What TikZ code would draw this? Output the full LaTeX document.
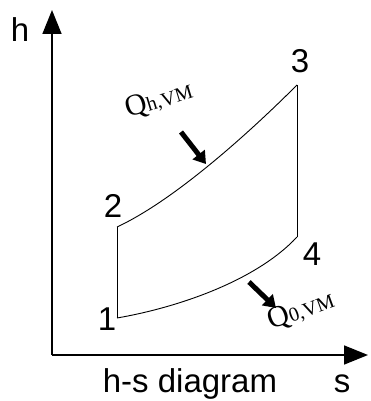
\documentclass[tikz,border=0pt]{standalone}
\usepackage{fontspec}
\setmainfont{Liberation Sans}
\newfontfamily\qfont{Liberation Serif}
\usetikzlibrary{arrows.meta}

\begin{document}
\begin{tikzpicture}[
    x=1pt, y=-1pt,
    axis/.style={line width=1.6pt, -{Triangle[length=24pt,width=19pt]}},
    cycle/.style={line width=0.9pt},
    heat/.style={line width=5pt, -{Triangle[length=12pt,width=15pt]}},
    lab/.style={font=\fontsize{33}{33}\selectfont, anchor=base, inner sep=0pt},
    qlab/.style={font=\qfont\fontsize{30}{30}\selectfont, anchor=base west, inner sep=0pt, rotate=17},
]
\useasboundingbox (0,0) rectangle (371,401);

% Axes
\coordinate (O) at (52,355);
\coordinate (htip) at (52,10);
\coordinate (stip) at (368,355);
\draw[axis] (O) -- (htip);
\draw[axis] (O) -- (stip);

% State points
\coordinate (p1) at (117,318);
\coordinate (p2) at (117,227);
\coordinate (p3) at (297,85);
\coordinate (p4) at (297,237);

% Cycle
\draw[cycle] (p1) -- (p2);
\draw[cycle] (p2) .. controls (175,200) and (250,132) .. (p3);
\draw[cycle] (p3) -- (p4);
\draw[cycle] (p1) .. controls (175,308) and (255,282) .. (p4);

% Point labels
\node[lab] (l1) at (107,330) {1};
\node[lab] (l2) at (113,217) {2};
\node[lab] (l3) at (300,73) {3};
\node[lab] (l4) at (312,265) {4};

% Axis labels
\node[lab] (hlab) at (20,42) {h};
\node[lab] (slab) at (342,392) {s};
\node[lab] (title) at (190,392) {h-s diagram};

% Heat flows
\coordinate (qhs) at (181,132);
\coordinate (qhe) at (206,164);
\draw[heat] (qhs) -- (qhe);
\node[qlab] (qh) at (128,118) {Q{\fontsize{20}{20}\selectfont h,VM}};

\coordinate (q0s) at (249,282);
\coordinate (q0e) at (276,308);
\draw[heat] (q0s) -- (q0e);
\node[qlab, rotate=3] (q0) at (271,330) {Q{\fontsize{20}{20}\selectfont 0,VM}};
\end{tikzpicture}
\end{document}
